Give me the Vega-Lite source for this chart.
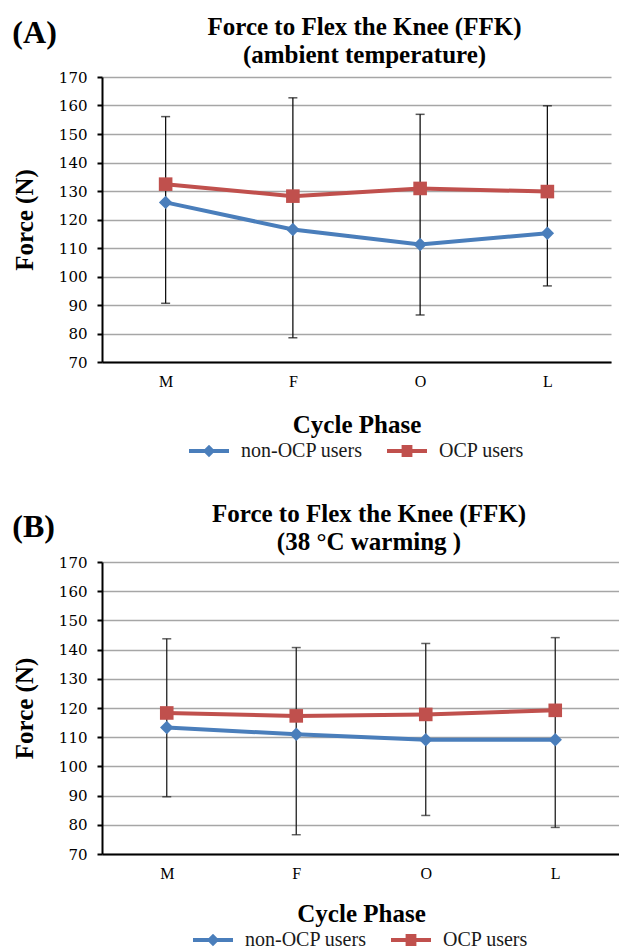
{
  "$schema": "https://vega.github.io/schema/vega-lite/v6.json",
  "background": "white",
  "padding": {"left": 12, "top": 15, "right": 0, "bottom": 0},
  "datasets": {
    "ambient": [
      {"phase": "M", "group": "non-OCP users", "force": 126.0},
      {"phase": "F", "group": "non-OCP users", "force": 116.5},
      {"phase": "O", "group": "non-OCP users", "force": 111.2},
      {"phase": "L", "group": "non-OCP users", "force": 115.2},
      {"phase": "M", "group": "OCP users", "force": 132.4},
      {"phase": "F", "group": "OCP users", "force": 128.2},
      {"phase": "O", "group": "OCP users", "force": 130.9},
      {"phase": "L", "group": "OCP users", "force": 129.8}
    ],
    "ambientErr": [
      {"phase": "M", "lo": 90.6, "hi": 156.1},
      {"phase": "F", "lo": 78.5, "hi": 162.7},
      {"phase": "O", "lo": 86.5, "hi": 156.9},
      {"phase": "L", "lo": 96.7, "hi": 159.9}
    ],
    "warm": [
      {"phase": "M", "group": "non-OCP users", "force": 113.3},
      {"phase": "F", "group": "non-OCP users", "force": 111.0},
      {"phase": "O", "group": "non-OCP users", "force": 109.1},
      {"phase": "L", "group": "non-OCP users", "force": 109.1},
      {"phase": "M", "group": "OCP users", "force": 118.3},
      {"phase": "F", "group": "OCP users", "force": 117.3},
      {"phase": "O", "group": "OCP users", "force": 117.8},
      {"phase": "L", "group": "OCP users", "force": 119.2}
    ],
    "warmErr": [
      {"phase": "M", "lo": 89.6, "hi": 143.7},
      {"phase": "F", "lo": 76.6, "hi": 140.7},
      {"phase": "O", "lo": 83.2, "hi": 142.1},
      {"phase": "L", "lo": 79.1, "hi": 144.1}
    ]
  },
  "config": {
    "view": {"stroke": null},
    "font": "Liberation Serif",
    "title": {"font": "Liberation Serif", "fontWeight": "bold", "fontSize": 25, "color": "#000000", "lineHeight": 28, "anchor": "middle"},
    "axis": {"domainColor": "#000000", "domainWidth": 2, "labelColor": "#000000", "titleColor": "#000000", "titleFont": "Liberation Serif", "titleFontWeight": "bold", "titleFontSize": 25},
    "axisX": {"ticks": false, "tickSize": 0, "grid": false, "labelAngle": 0, "labelFont": "Liberation Serif", "labelFontSize": 16, "labelPadding": 11, "titlePadding": 23},
    "axisY": {"tickSize": 5, "tickWidth": 2, "tickColor": "#000000", "tickCount": 10, "labelOverlap": false, "grid": true, "gridColor": "#a6a6a6", "gridWidth": 1.5, "labelFont": "DejaVu Serif", "labelFontSize": 15, "labelPadding": 10, "titlePadding": 21},
    "legend": {"orient": "bottom", "direction": "horizontal", "symbolSize": 1600, "symbolStrokeWidth": 0, "symbolOpacity": 1, "labelFont": "Liberation Serif", "labelFontSize": 20, "labelColor": "#1a1a1a", "labelOffset": 12, "columnPadding": 24, "offset": -6, "layout": {"bottom": {"anchor": "middle"}}}
  },
  "resolve": {"scale": {"color": "independent", "shape": "independent"}, "legend": {"color": "independent", "shape": "independent"}},
  "spacing": 41,
  "vconcat": [
    {
      "title": {"text": "(A)", "anchor": "start", "frame": "bounds", "fontSize": 32, "offset": -35},
      "resolve": {"scale": {"color": "independent", "shape": "independent"}, "legend": {"color": "independent", "shape": "independent"}},
      "vconcat": [
        {
          "width": 509,
          "height": 285,
          "title": {"text": ["Force to Flex the Knee (FFK)", "(ambient temperature)"], "offset": 2, "frame": "group", "dx": 8},
          "encoding": {"x": {"field": "phase", "type": "ordinal", "sort": ["M", "F", "O", "L"], "scale": {"type": "point", "padding": 0.5}, "title": "Cycle Phase"}},
          "layer": [
            {"data": {"name": "ambientErr"}, "mark": {"type": "rule", "color": "#111111", "strokeWidth": 1.3},
             "encoding": {"y": {"field": "lo", "type": "quantitative", "scale": {"domain": [70, 170], "nice": false, "zero": false}, "axis": {"labelFont": "DejaVu Serif"}, "title": "Force (N)"}, "y2": {"field": "hi"}}},
            {"data": {"name": "ambientErr"}, "mark": {"type": "tick", "color": "#111111", "thickness": 1.5, "size": 9},
             "encoding": {"y": {"field": "lo", "type": "quantitative", "scale": {"domain": [70, 170], "nice": false, "zero": false}, "title": "Force (N)"}}},
            {"data": {"name": "ambientErr"}, "mark": {"type": "tick", "color": "#111111", "thickness": 1.5, "size": 9},
             "encoding": {"y": {"field": "hi", "type": "quantitative", "scale": {"domain": [70, 170], "nice": false, "zero": false}, "title": "Force (N)"}}},
            {"data": {"name": "ambient"}, "transform": [{"filter": "datum.group === 'non-OCP users'"}], "mark": {"type": "line", "color": "#4a7ebb", "strokeWidth": 4},
             "encoding": {"y": {"field": "force", "type": "quantitative", "scale": {"domain": [70, 170], "nice": false, "zero": false}, "title": "Force (N)"}}},
            {"data": {"name": "ambient"}, "transform": [{"filter": "datum.group === 'OCP users'"}], "mark": {"type": "line", "color": "#c0504d", "strokeWidth": 4},
             "encoding": {"y": {"field": "force", "type": "quantitative", "scale": {"domain": [70, 170], "nice": false, "zero": false}, "title": "Force (N)"}}},
            {"data": {"name": "ambient"}, "transform": [{"filter": "datum.group === 'non-OCP users'"}], "mark": {"type": "point", "shape": "diamond", "filled": true, "size": 180, "color": "#4a7ebb", "opacity": 1},
             "encoding": {"y": {"field": "force", "type": "quantitative", "scale": {"domain": [70, 170], "nice": false, "zero": false}, "title": "Force (N)"}}},
            {"data": {"name": "ambient"}, "transform": [{"filter": "datum.group === 'OCP users'"}], "mark": {"type": "point", "shape": "square", "filled": true, "size": 185, "color": "#c0504d", "opacity": 1},
             "encoding": {"y": {"field": "force", "type": "quantitative", "scale": {"domain": [70, 170], "nice": false, "zero": false}, "title": "Force (N)"}}},
            {"data": {"name": "ambient"}, "mark": {"type": "point", "filled": true, "opacity": 0},
             "encoding": {
               "y": {"field": "force", "type": "quantitative", "scale": {"domain": [70, 170], "nice": false, "zero": false}, "title": "Force (N)"},
               "color": {"field": "group", "type": "nominal", "scale": {"domain": ["non-OCP users", "OCP users"], "range": ["#4a7ebb", "#c0504d"]}, "legend": {"title": null, "labelFont": "Liberation Serif"}},
               "shape": {"field": "group", "type": "nominal", "scale": {"domain": ["non-OCP users", "OCP users"], "range": ["M-1,-0.1H1V0.1H-1Z M0,-0.31L0.31,0L0,0.31L-0.31,0Z", "M-1,-0.1H1V0.1H-1Z M-0.27,-0.3H0.27V0.3H-0.27Z"]}, "legend": {"title": null, "labelFont": "Liberation Serif"}}
             }}
          ]
        }
      ]
    },
    {
      "title": {"text": "(B)", "anchor": "start", "frame": "bounds", "fontSize": 32, "offset": -42},
      "resolve": {"scale": {"color": "independent", "shape": "independent"}, "legend": {"color": "independent", "shape": "independent"}},
      "vconcat": [
        {
          "width": 518,
          "height": 292,
          "title": {"text": ["Force to Flex the Knee (FFK)", "(38 °C warming )"], "offset": 0, "frame": "group", "dx": 8},
          "encoding": {"x": {"field": "phase", "type": "ordinal", "sort": ["M", "F", "O", "L"], "scale": {"type": "point", "padding": 0.5}, "title": "Cycle Phase", "axis": {"titlePadding": 20}}},
          "layer": [
            {"data": {"name": "warmErr"}, "mark": {"type": "rule", "color": "#222222", "strokeWidth": 1.3},
             "encoding": {"y": {"field": "lo", "type": "quantitative", "scale": {"domain": [70, 170], "nice": false, "zero": false}, "axis": {"labelFont": "DejaVu Serif"}, "title": "Force (N)"}, "y2": {"field": "hi"}}},
            {"data": {"name": "warmErr"}, "mark": {"type": "tick", "color": "#222222", "thickness": 1.5, "size": 9},
             "encoding": {"y": {"field": "lo", "type": "quantitative", "scale": {"domain": [70, 170], "nice": false, "zero": false}, "title": "Force (N)"}}},
            {"data": {"name": "warmErr"}, "mark": {"type": "tick", "color": "#222222", "thickness": 1.5, "size": 9},
             "encoding": {"y": {"field": "hi", "type": "quantitative", "scale": {"domain": [70, 170], "nice": false, "zero": false}, "title": "Force (N)"}}},
            {"data": {"name": "warm"}, "transform": [{"filter": "datum.group === 'non-OCP users'"}], "mark": {"type": "line", "color": "#4a7ebb", "strokeWidth": 4},
             "encoding": {"y": {"field": "force", "type": "quantitative", "scale": {"domain": [70, 170], "nice": false, "zero": false}, "title": "Force (N)"}}},
            {"data": {"name": "warm"}, "transform": [{"filter": "datum.group === 'OCP users'"}], "mark": {"type": "line", "color": "#c0504d", "strokeWidth": 4},
             "encoding": {"y": {"field": "force", "type": "quantitative", "scale": {"domain": [70, 170], "nice": false, "zero": false}, "title": "Force (N)"}}},
            {"data": {"name": "warm"}, "transform": [{"filter": "datum.group === 'non-OCP users'"}], "mark": {"type": "point", "shape": "diamond", "filled": true, "size": 180, "color": "#4a7ebb", "opacity": 1},
             "encoding": {"y": {"field": "force", "type": "quantitative", "scale": {"domain": [70, 170], "nice": false, "zero": false}, "title": "Force (N)"}}},
            {"data": {"name": "warm"}, "transform": [{"filter": "datum.group === 'OCP users'"}], "mark": {"type": "point", "shape": "square", "filled": true, "size": 185, "color": "#c0504d", "opacity": 1},
             "encoding": {"y": {"field": "force", "type": "quantitative", "scale": {"domain": [70, 170], "nice": false, "zero": false}, "title": "Force (N)"}}},
            {"data": {"name": "warm"}, "mark": {"type": "point", "filled": true, "opacity": 0},
             "encoding": {
               "y": {"field": "force", "type": "quantitative", "scale": {"domain": [70, 170], "nice": false, "zero": false}, "title": "Force (N)"},
               "color": {"field": "group", "type": "nominal", "scale": {"domain": ["non-OCP users", "OCP users"], "range": ["#4a7ebb", "#c0504d"]}, "legend": {"title": null, "labelFont": "Liberation Serif"}},
               "shape": {"field": "group", "type": "nominal", "scale": {"domain": ["non-OCP users", "OCP users"], "range": ["M-1,-0.1H1V0.1H-1Z M0,-0.31L0.31,0L0,0.31L-0.31,0Z", "M-1,-0.1H1V0.1H-1Z M-0.27,-0.3H0.27V0.3H-0.27Z"]}, "legend": {"title": null, "labelFont": "Liberation Serif"}}
             }}
          ]
        }
      ]
    }
  ]
}
